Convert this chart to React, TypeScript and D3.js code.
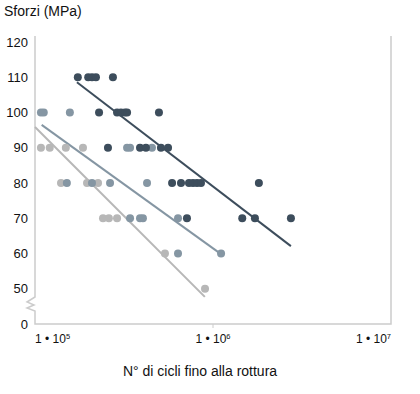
import React, { useEffect, useRef } from 'react';
import * as d3 from 'd3';

// axis ticks
const stressTicks = [40, 50, 60, 70, 80, 90, 100, 110, 120];
const cycleTicks = [1e5, 1e6, 1e7];
const cycleExp = ['5', '6', '7'];

// dark series (cycles, stress MPa)
const darkCycles = [1.74e5, 1.99e5, 2.09e5, 2.2e5, 2.74e5,
	2.29e5, 2.89e5, 3.04e5, 3.2e5, 3.29e5, 4.97e5,
	2.57e5, 3.89e5, 4.2e5, 5.1e5, 5.59e5,
	5.89e5, 6.61e5, 7.33e5, 7.72e5, 8.13e5, 8.56e5, 1.81e6,
	7.14e5, 1.46e6, 1.72e6, 2.74e6];
const darkStress = [110, 110, 110, 110, 110,
	100, 100, 100, 100, 100, 100,
	90, 90, 90, 90, 90,
	80, 80, 80, 80, 80, 80, 80,
	70, 70, 70, 70];

// medium series
const midCycles = [1.08e5, 1.12e5, 1.57e5,
	3.29e5, 3.42e5, 4.54e5,
	1.51e5, 2.09e5, 2.64e5, 4.26e5,
	3.42e5, 3.89e5, 4.04e5, 6.36e5,
	6.36e5, 1.11e6];
const midStress = [100, 100, 100,
	90, 90, 90,
	80, 80, 80, 80,
	70, 70, 70, 70,
	60, 60];

// light series
const lightCycles = [1.08e5, 1.21e5, 1.49e5, 1.86e5,
	1.4e5, 1.96e5, 2.26e5,
	2.41e5, 2.6e5, 2.89e5,
	5.37e5, 9.02e5];
const lightStress = [90, 90, 90, 90,
	80, 80, 80,
	70, 70, 70,
	60, 50];

// trend lines
const darkFitCycles = [1.72e5, 2.74e6];
const darkFitStress = [108.6, 62.1];
const midFitCycles = [1.09e5, 1.09e6];
const midFitStress = [96.5, 60.1];
const lightFitCycles = [1.0e5, 9.0e5];
const lightFitStress = [95.9, 47.7];

const DARK = '#3d4d5c';
const MID = '#8596a3';
const LIGHT = '#b7b7b7';
const AXIS = '#cccccc';
const TEXT = '#111111';
const FONT = '"Liberation Sans", Arial, sans-serif';

const draw = (el: SVGSVGElement) => {
	const svg = d3.select(el);
	svg.selectAll('*').remove();

	const x = d3.scaleLog().domain([1e5, 1e7]).range([35, 391]);
	const y = d3.scaleLinear().domain([40, 120]).range([324, 42]);

	// frame: left axis with break, bottom axis, right border
	const top = 36;
	const bottom = y(40);
	svg.append('path')
		.attr('d', `M35,${top} V297 L27,302 L34,305 L27,308 L35,311 V${bottom} H391 V${top}`)
		.attr('fill', 'none')
		.attr('stroke', AXIS)
		.attr('stroke-width', 1.5);

	svg.append('line')
		.attr('x1', x(1e6)).attr('x2', x(1e6))
		.attr('y1', bottom).attr('y2', bottom + 4)
		.attr('stroke', AXIS).attr('stroke-width', 1);

	// y tick labels
	svg.append('g').selectAll('text').data(stressTicks).join('text')
		.attr('x', 28)
		.attr('y', d => y(d))
		.attr('dy', '0.35em')
		.attr('text-anchor', 'end')
		.attr('font-family', FONT)
		.attr('font-size', 13)
		.attr('fill', TEXT)
		.text(d => (d === 40 ? '0' : String(d)));

	// x tick labels
	const anchors = ['start', 'middle', 'end'];
	const xl = svg.append('g').selectAll('text').data(cycleTicks).join('text')
		.attr('x', d => x(d))
		.attr('y', 343)
		.attr('text-anchor', (d, i) => anchors[i])
		.attr('font-family', FONT)
		.attr('font-size', 12)
		.attr('fill', TEXT);
	xl.append('tspan').text('1 • 10');
	xl.append('tspan')
		.attr('font-size', 7.5)
		.attr('dy', -4)
		.text((d, i) => cycleExp[i]);

	// titles
	svg.append('text')
		.attr('x', 4).attr('y', 16)
		.attr('font-family', FONT).attr('font-size', 14).attr('fill', TEXT)
		.text('Sforzi (MPa)');
	svg.append('text')
		.attr('x', 200).attr('y', 376)
		.attr('text-anchor', 'middle')
		.attr('font-family', FONT).attr('font-size', 14).attr('fill', TEXT)
		.text('N° di cicli fino alla rottura');

	// trend lines
	const line = d3.line<[number, number]>()
		.x(d => x(d[0]))
		.y(d => y(d[1]));
	const fits = [
		{ c: lightFitCycles, s: lightFitStress, col: LIGHT },
		{ c: midFitCycles, s: midFitStress, col: MID },
		{ c: darkFitCycles, s: darkFitStress, col: DARK },
	];
	fits.forEach(f => {
		const pts = f.c.map((c, i) => [c, f.s[i]] as [number, number]);
		svg.append('path')
			.attr('d', line(pts))
			.attr('fill', 'none')
			.attr('stroke', f.col)
			.attr('stroke-width', 2);
	});

	// points
	const series = [
		{ c: lightCycles, s: lightStress, col: LIGHT },
		{ c: midCycles, s: midStress, col: MID },
		{ c: darkCycles, s: darkStress, col: DARK },
	];
	series.forEach(sr => {
		svg.append('g').selectAll('circle').data(sr.c).join('circle')
			.attr('cx', d => x(d))
			.attr('cy', (d, i) => y(sr.s[i]))
			.attr('r', 4)
			.attr('fill', sr.col);
	});
};

export default function App() {
	const ref = useRef<SVGSVGElement>(null);
	useEffect(() => {
		if (ref.current) draw(ref.current);
	}, []);
	return (
		<svg ref={ref} width={420} height={394}
			style={{ position: 'absolute', left: 0, top: 0, background: '#fff' }} />
	);
}
